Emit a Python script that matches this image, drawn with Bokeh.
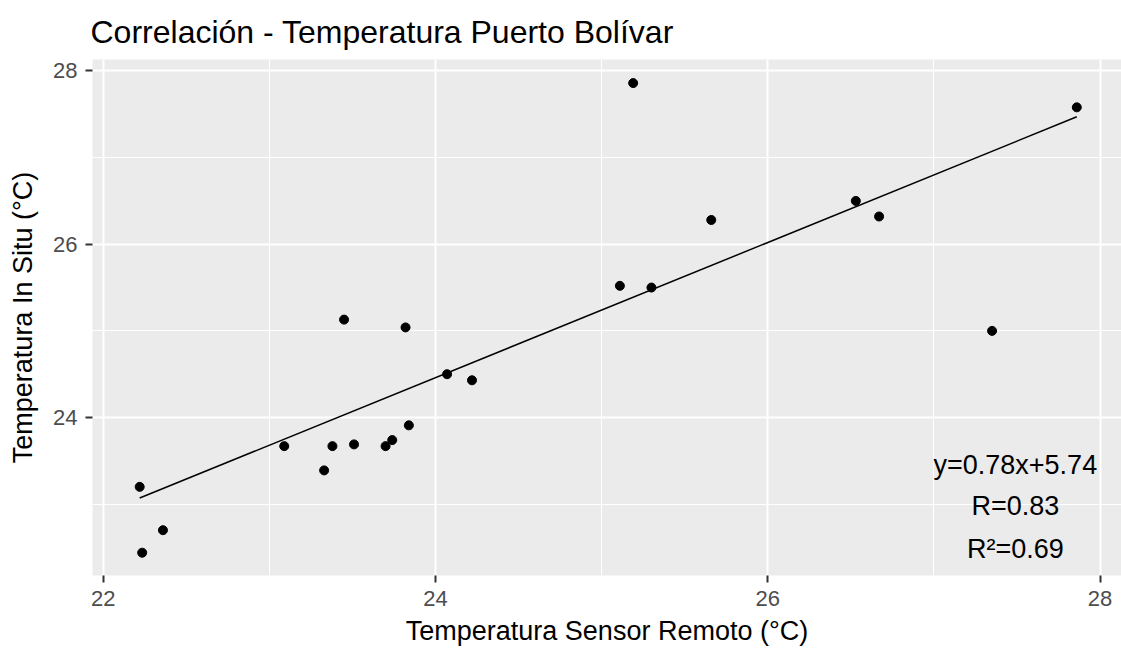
from bokeh.plotting import figure
from bokeh.models import Range1d, FixedTicker, Label
from bokeh.embed import file_html
from bokeh.resources import INLINE

# ---- data ----
sensor_remoto = [22.22, 22.235, 22.36, 23.09, 23.33, 23.38, 23.51, 23.70, 23.74, 23.84,
                 23.45, 23.82, 24.07, 24.22, 25.19, 25.11, 25.30, 25.66, 26.53, 26.67,
                 27.35, 27.86]
in_situ = [23.20, 22.44, 22.70, 23.67, 23.39, 23.67, 23.69, 23.67, 23.74, 23.91,
           25.13, 25.04, 24.50, 24.43, 27.86, 25.52, 25.50, 26.28, 26.50, 26.32,
           25.00, 27.58]
slope = 0.78
intercept = 5.74
r_value = 0.83
r2_value = 0.69
x_ticks = [22, 24, 26, 28]
y_ticks = [22, 24, 26, 28]
minor_ticks = [23, 25, 27]

title_text = "Correlación - Temperatura Puerto Bolívar"
x_label = "Temperatura Sensor Remoto (°C)"
y_label = "Temperatura In Situ (°C)"

FONT = "Liberation Sans"

p = figure(frame_width=1029, frame_height=516,
           min_border_left=92, min_border_right=0, min_border_top=59, min_border_bottom=80,
           x_range=Range1d(21.936, 28.129), y_range=Range1d(22.177, 28.132),
           output_backend="svg", toolbar_location=None, title=title_text)

p.background_fill_color = "#EBEBEB"
p.border_fill_color = "white"
p.outline_line_color = None

p.title.text_font = FONT
p.title.text_font_size = "32px"
p.title.text_font_style = "normal"
p.title.text_color = "black"
p.title.align = "left"
p.title.standoff = 20
p.title.offset = -2

p.xaxis.ticker = FixedTicker(ticks=x_ticks, minor_ticks=minor_ticks)
p.yaxis.ticker = FixedTicker(ticks=y_ticks, minor_ticks=minor_ticks)

for ax in (p.xaxis[0], p.yaxis[0]):
    ax.axis_line_color = None
    ax.major_tick_line_color = "#333333"
    ax.major_tick_line_width = 2
    ax.major_tick_out = 7
    ax.major_tick_in = 0
    ax.minor_tick_line_color = None
    ax.major_label_text_font = FONT
    ax.major_label_text_font_size = "22px"
    ax.major_label_text_color = "#4D4D4D"
    ax.axis_label_text_font = FONT
    ax.axis_label_text_font_size = "27px"
    ax.axis_label_text_font_style = "normal"
    ax.axis_label_text_color = "black"

p.xaxis.axis_label = x_label
p.yaxis.axis_label = y_label
p.xaxis.major_label_standoff = 8
p.xaxis.axis_label_standoff = 7
p.yaxis.major_label_standoff = 8
p.yaxis.axis_label_standoff = 12

for g in (p.xgrid[0], p.ygrid[0]):
    g.grid_line_color = "white"
    g.grid_line_width = 2
    g.minor_grid_line_color = "white"
    g.minor_grid_line_width = 1.1

# regression line
x0 = min(sensor_remoto)
x1 = max(sensor_remoto)
p.line([x0, x1], [slope * x0 + intercept, slope * x1 + intercept],
       line_color="black", line_width=1.5)

# points
p.scatter(sensor_remoto, in_situ, size=9, color="black")

# annotation
ann_x = 27.49
texts = [f"y={slope}x+{intercept}", f"R={r_value}", f"R²={r2_value}"]
ys = [23.458, 22.979, 22.488]
for t, yy in zip(texts, ys):
    p.add_layout(Label(x=ann_x, y=yy, text=t, text_align="center",
                       text_baseline="middle", text_font=FONT,
                       text_font_size="27px", text_color="black"))

open("out.html", "w").write(file_html(p, INLINE))
